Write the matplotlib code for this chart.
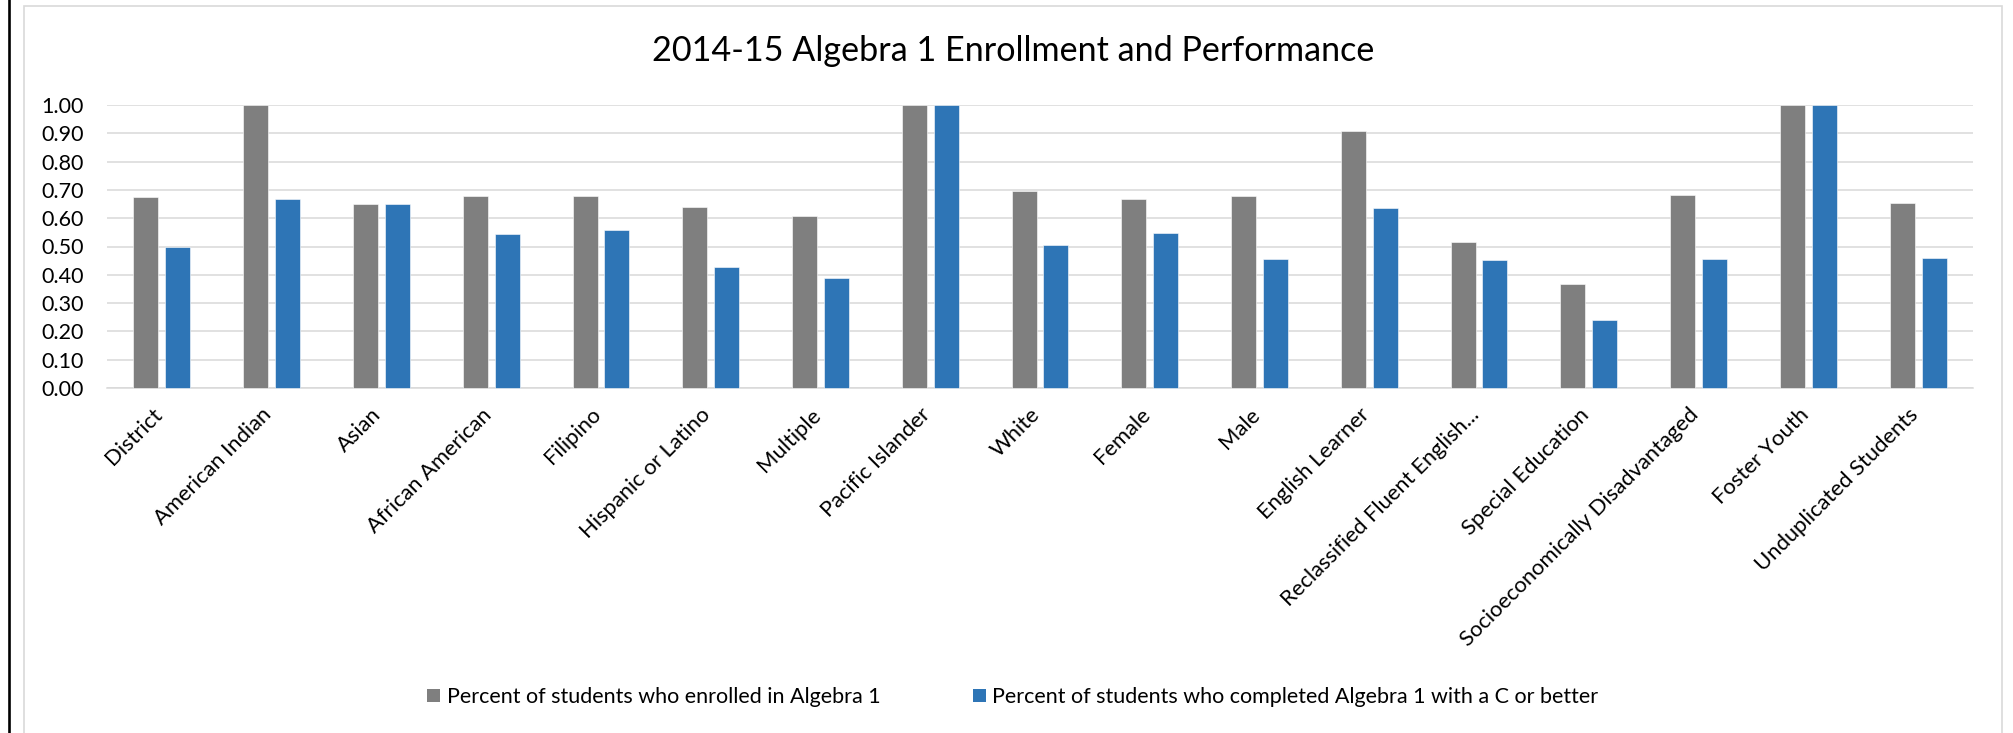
import matplotlib
matplotlib.use("Agg")
import matplotlib.pyplot as plt
import matplotlib.transforms as mtransforms
from matplotlib.patches import Rectangle, Patch
from matplotlib.lines import Line2D
import numpy as np

categories = ["District", "American Indian", "Asian", "African American", "Filipino",
              "Hispanic or Latino", "Multiple", "Pacific Islander", "White", "Female",
              "Male", "English Learner", "Reclassified Fluent English...", "Special Education",
              "Socioeconomically Disadvantaged", "Foster Youth", "Unduplicated Students"]
enrolled = [0.675, 1.00, 0.650, 0.678, 0.678, 0.641, 0.609, 1.00, 0.697, 0.669,
            0.680, 0.909, 0.515, 0.369, 0.682, 1.00, 0.654]
completed = [0.500, 0.667, 0.650, 0.543, 0.559, 0.426, 0.390, 1.00, 0.505, 0.549,
             0.455, 0.636, 0.451, 0.239, 0.457, 1.00, 0.458]
yticks = [0.0, 0.1, 0.2, 0.3, 0.4, 0.5, 0.6, 0.7, 0.8, 0.9, 1.0]
series_names = ["Percent of students who enrolled in Algebra 1",
                "Percent of students who completed Algebra 1 with a C or better"]
title = "2014-15 Algebra 1 Enrollment and Performance"

GRAY = "#7F7F7F"
BLUE = "#2E75B6"
GRID = "#D9D9D9"
FONT = ["Lato", "DejaVu Sans"]

plt.rcParams["font.family"] = FONT

W, H = 2013, 733
fig = plt.figure(figsize=(W / 100, H / 100), dpi=100)
fig.patch.set_facecolor("white")

ax = fig.add_axes([107 / W, 1 - 388 / H, (1973 - 107) / W, (388 - 105) / H])

x = np.arange(len(categories))
bw = 0.228
off = 0.145
ax.bar(x - off, enrolled, width=bw, color=GRAY, edgecolor="white", linewidth=0.4,
       zorder=3, clip_on=False)
ax.bar(x + off, completed, width=bw, color=BLUE, edgecolor="white", linewidth=0.4,
       zorder=3, clip_on=False)

ax.set_xlim(-0.5, len(categories) - 0.5)
ax.set_ylim(0, 1.0)
ax.set_yticks(yticks)
ax.set_yticklabels([f"{v:.2f}" for v in yticks], fontsize=15.5, color="black")
ax.yaxis.grid(True, color=GRID, linewidth=1.1)
ax.set_axisbelow(True)
for s in ["left", "right", "top"]:
    ax.spines[s].set_visible(False)
ax.spines["bottom"].set_color(GRID)
ax.spines["bottom"].set_linewidth(1.1)
ax.tick_params(axis="y", length=0, pad=17)
ax.tick_params(axis="x", length=0, pad=17)

ax.set_xticks(x)
ax.set_xticklabels(categories, rotation=45, ha="right", va="center",
                   rotation_mode="anchor", fontsize=15.8, color="black")
shift = mtransforms.ScaledTranslation(-3 / 100, 0, fig.dpi_scale_trans)
for lab in ax.get_xticklabels():
    lab.set_transform(lab.get_transform() + shift)

fig.text(1013 / W, 1 - 51 / H, title, ha="center", va="center", fontsize=24.6, color="black")

handles = [Patch(facecolor=GRAY, edgecolor="none"), Patch(facecolor=BLUE, edgecolor="none")]
fig.legend(handles, series_names, loc="center", bbox_to_anchor=(1013 / W, 1 - 697 / H),
           ncol=2, frameon=False, fontsize=15.5, handlelength=0.6, handleheight=0.6,
           handletextpad=0.3, columnspacing=4.3)

# chart area border and left black rule
fig.add_artist(Rectangle((24 / W, -0.05), (2002 - 24) / W, 1.05 - 6 / H,
                         transform=fig.transFigure, fill=False, edgecolor=GRID, linewidth=1.2))
fig.add_artist(Line2D([8.7 / W, 8.7 / W], [0, 1], transform=fig.transFigure,
                      color="black", linewidth=1.9))

fig.savefig("out.png", dpi=100, facecolor="white")
